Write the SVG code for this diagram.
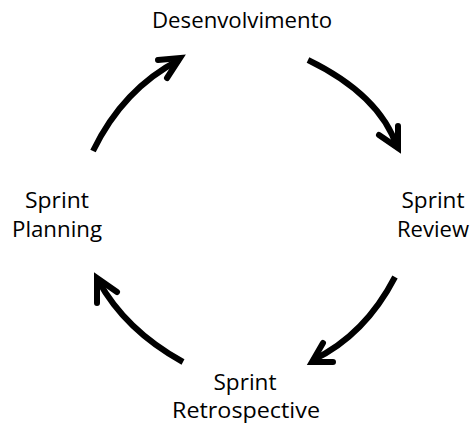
<svg xmlns="http://www.w3.org/2000/svg" width="472" height="429" viewBox="0 0 472 429">
<style>
.t{font-family:"Open Sans","Liberation Sans",Arial,sans-serif;font-size:21px;fill:#000;text-anchor:middle}
.c{fill:none;stroke:#000;stroke-width:6;stroke-linecap:butt}
.h{fill:none;stroke:#000;stroke-width:6;stroke-linejoin:miter;stroke-linecap:round}
</style>
<rect width="472" height="429" fill="#fff"/>
<g id="desenvolvimento"><text class="t" x="242" y="28" textLength="180" lengthAdjust="spacingAndGlyphs">Desenvolvimento</text></g>
<g id="sprint-review"><text class="t" x="433" y="208" textLength="63" lengthAdjust="spacingAndGlyphs">Sprint</text><text class="t" x="433" y="237" textLength="72" lengthAdjust="spacingAndGlyphs">Review</text></g>
<g id="sprint-retrospective"><text class="t" x="245" y="390" textLength="63" lengthAdjust="spacingAndGlyphs">Sprint</text><text class="t" x="246" y="418" textLength="148" lengthAdjust="spacingAndGlyphs">Retrospective</text></g>
<g id="sprint-planning"><text class="t" x="57" y="208" textLength="64" lengthAdjust="spacingAndGlyphs">Sprint</text><text class="t" x="57" y="237" textLength="90" lengthAdjust="spacingAndGlyphs">Planning</text></g>
<g id="connectors">
<path class="c" d="M93,151 Q123,89 179,60"/>
<path class="h" d="M158,60 L180,58 L167,78"/>
<path class="c" d="M308,60 Q380,95 397,147"/>
<path class="h" d="M398,126 L398,148 L379,135"/>
<path class="c" d="M395,277 Q365,335 313,360"/>
<path class="h" d="M323,343 L312,362 L333,362"/>
<path class="c" d="M183,362 Q125,330 98,280"/>
<path class="h" d="M97,303 L97,278 L117,292"/>
</g>
</svg>
